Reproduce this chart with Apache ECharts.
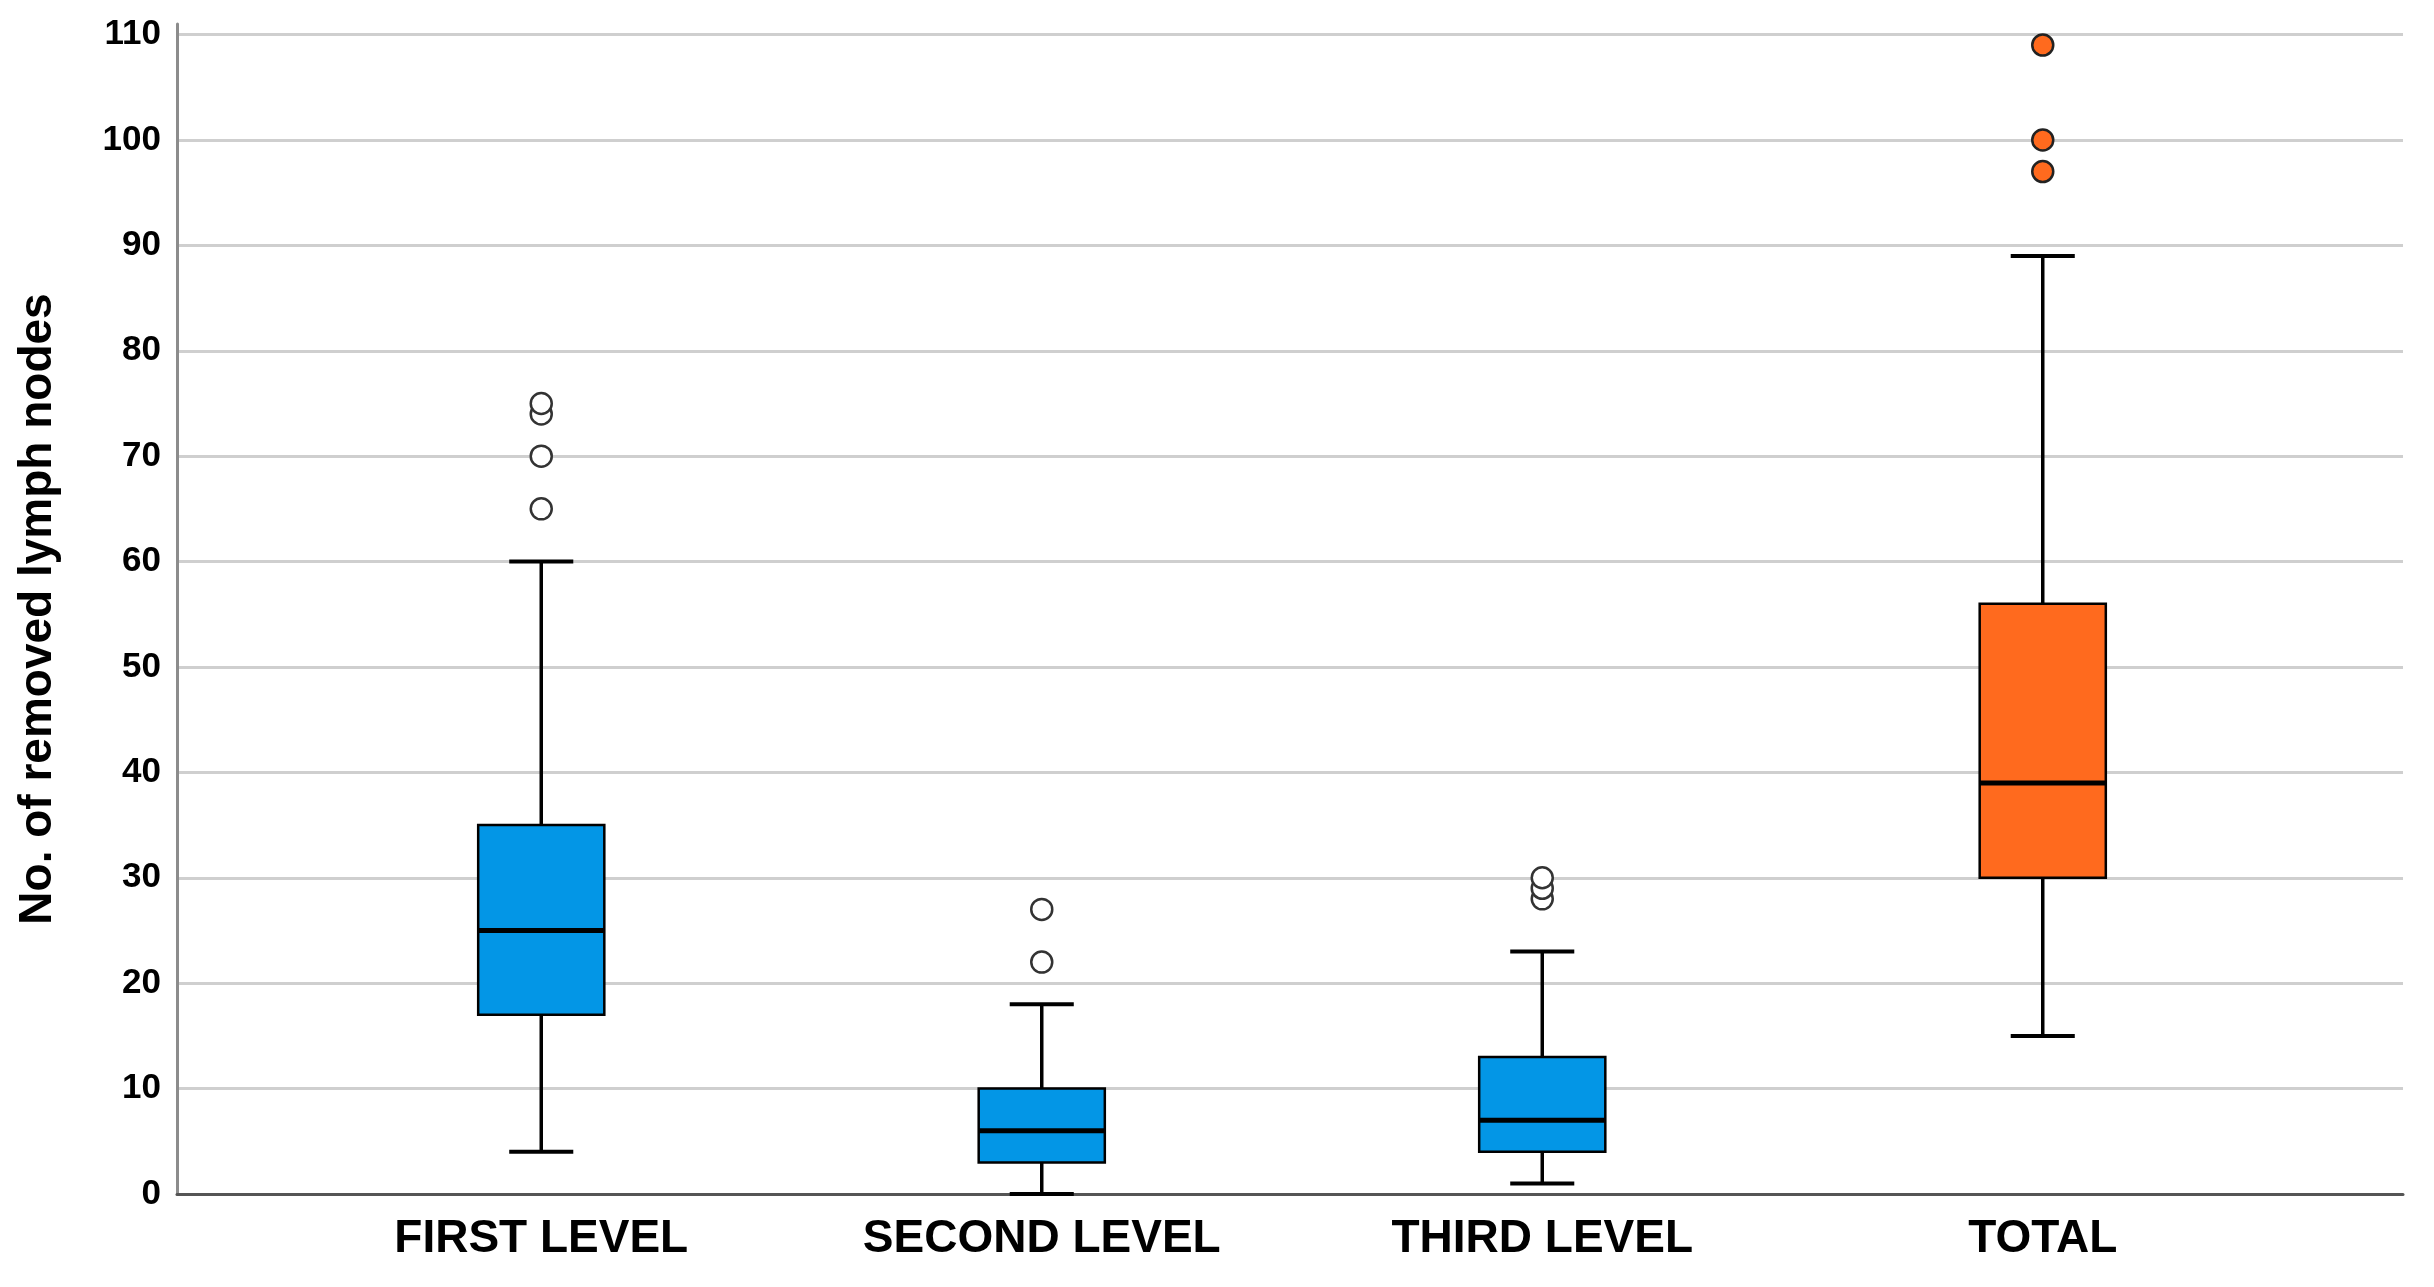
<!DOCTYPE html>
<html>
<head>
<meta charset="utf-8">
<script src="https://cdn.jsdelivr.net/npm/echarts@6/dist/echarts.min.js"></script>
<style>
  html, body { margin: 0; padding: 0; background: #ffffff; }
  #chart { width: 2434px; height: 1287px; }
</style>
</head>
<body>
<div id="chart"></div>
<script>
// ---- data ----
const categories = ['FIRST LEVEL', 'SECOND LEVEL', 'THIRD LEVEL', 'TOTAL'];
const whiskerLow  = [4, 0, 1, 15];
const quartile1   = [17, 3, 4, 30];
const medians     = [25, 6, 7, 39];
const quartile3   = [35, 10, 13, 56];
const whiskerHigh = [60, 18, 23, 89];
const outliersFirst  = [65, 70, 74, 75];
const outliersSecond = [22, 27];
const outliersThird  = [28, 29, 30];
const outliersTotal  = [97, 100, 109];
const yTicks = [0, 10, 20, 30, 40, 50, 60, 70, 80, 90, 100, 110];
const yTitle = 'No. of removed lymph nodes';

// ---- styles ----
const boxColors = ['#0396E6', '#0396E6', '#0396E6', '#FF6A1E'];
const FONT = '"Liberation Sans", Arial, sans-serif';

const boxData = categories.map((c, i) => [i, whiskerLow[i], quartile1[i], medians[i], quartile3[i], whiskerHigh[i]]);

function renderBox(params, api) {
  const i = api.value(0);
  const band = api.size([1, 0])[0];
  const boxW = band * 0.252;
  const capW = band * 0.128;
  const pLow = api.coord([i, api.value(1)]);
  const pQ1 = api.coord([i, api.value(2)]);
  const pMed = api.coord([i, api.value(3)]);
  const pQ3 = api.coord([i, api.value(4)]);
  const pHigh = api.coord([i, api.value(5)]);
  const cx = pQ1[0];
  const lineStyle = { stroke: '#000', lineWidth: 3.5 };
  return {
    type: 'group',
    children: [
      { type: 'line', shape: { x1: cx, y1: pHigh[1], x2: cx, y2: pQ3[1] }, style: lineStyle },
      { type: 'line', shape: { x1: cx, y1: pQ1[1], x2: cx, y2: pLow[1] }, style: lineStyle },
      { type: 'line', shape: { x1: cx - capW / 2, y1: pHigh[1], x2: cx + capW / 2, y2: pHigh[1] }, style: { stroke: '#000', lineWidth: 4 } },
      { type: 'line', shape: { x1: cx - capW / 2, y1: pLow[1], x2: cx + capW / 2, y2: pLow[1] }, style: { stroke: '#000', lineWidth: 4 } },
      { type: 'rect', shape: { x: cx - boxW / 2, y: pQ3[1], width: boxW, height: pQ1[1] - pQ3[1] },
        style: { fill: boxColors[i], stroke: '#000', lineWidth: 2.5 } },
      { type: 'line', shape: { x1: cx - boxW / 2, y1: pMed[1], x2: cx + boxW / 2, y2: pMed[1] }, style: { stroke: '#000', lineWidth: 5 } }
    ]
  };
}

const openOutliers = [];
outliersFirst.forEach(v => openOutliers.push([0, v]));
outliersSecond.forEach(v => openOutliers.push([1, v]));
outliersThird.forEach(v => openOutliers.push([2, v]));
const filledOutliers = outliersTotal.map(v => [3, v]);

const chart = echarts.init(document.getElementById('chart'), null, { renderer: 'canvas' });
const gridTop = 24, gridBottom = 93;
chart.setOption({
  backgroundColor: '#ffffff',
  animation: false,
  grid: [
    { left: 177, right: 31, top: gridTop, bottom: gridBottom, containLabel: false },
    { left: 291, right: 141, top: gridTop, bottom: gridBottom, containLabel: false }
  ],
  xAxis: [
    { gridIndex: 0, type: 'category', data: categories,
      axisLine: { show: true, lineStyle: { color: '#555555', width: 3 } },
      axisTick: { show: false }, axisLabel: { show: false }, splitLine: { show: false } },
    { gridIndex: 1, type: 'category', data: categories, boundaryGap: true,
      axisLine: { show: false }, axisTick: { show: false }, splitLine: { show: false },
      axisLabel: { show: true, margin: 22, color: '#000', fontFamily: FONT, fontWeight: 'bold', fontSize: 46 } }
  ],
  yAxis: [
    { gridIndex: 0, type: 'value', min: yTicks[0], max: 111, interval: 10,
      name: yTitle, nameLocation: 'middle', nameGap: 116,
      nameTextStyle: { color: '#000', fontFamily: FONT, fontWeight: 'bold', fontSize: 46 },
      axisLine: { show: true, lineStyle: { color: '#8c8c8c', width: 3 } },
      axisTick: { show: false },
      axisLabel: { show: true, margin: 16, showMaxLabel: false, color: '#000', fontFamily: FONT, fontWeight: 'bold', fontSize: 35,
        formatter: v => (yTicks.indexOf(v) >= 0 ? String(v) : '') },
      splitLine: { show: true, showMaxLine: false, lineStyle: { color: '#cfcfcf', width: 3 } } },
    { gridIndex: 1, type: 'value', min: yTicks[0], max: 111, interval: 10, show: false,
      splitLine: { show: false } }
  ],
  series: [
    { type: 'custom', xAxisIndex: 1, yAxisIndex: 1, renderItem: renderBox, data: boxData,
      encode: { x: 0, y: [1, 2, 3, 4, 5] }, z: 3 },
    { type: 'scatter', xAxisIndex: 1, yAxisIndex: 1, data: openOutliers, symbol: 'circle', symbolSize: 21,
      itemStyle: { color: '#ffffff', borderColor: '#333333', borderWidth: 2.5, opacity: 1 }, z: 4 },
    { type: 'scatter', xAxisIndex: 1, yAxisIndex: 1, data: filledOutliers, symbol: 'circle', symbolSize: 21,
      itemStyle: { color: '#FF6A1E', borderColor: '#222222', borderWidth: 2.5, opacity: 1 }, z: 4 }
  ]
});
</script>
</body>
</html>
